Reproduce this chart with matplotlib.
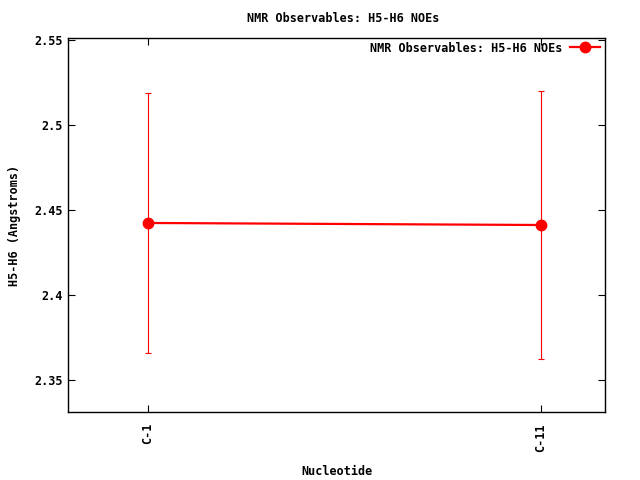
import matplotlib
matplotlib.use('Agg')
import matplotlib.pyplot as plt
from matplotlib.lines import Line2D

# data
nucleotides = ['C-1', 'C-11']
positions = [1, 11]
noe_mean = [2.4424, 2.4412]
noe_err = [0.0765, 0.0790]

plt.rcParams['font.family'] = ['DejaVu Sans Mono']
plt.rcParams['font.weight'] = 'bold'
plt.rcParams['font.size'] = 8.5

fig = plt.figure(figsize=(6.4, 4.8), dpi=100)
ax = fig.add_axes([0.10625, 0.1417, 0.8391, 0.7791])

ax.errorbar(positions, noe_mean, yerr=noe_err, color='#ff0000', ecolor='#ff0000',
            elinewidth=0.8, capsize=2.5, capthick=0.8, linewidth=1.6, marker='o',
            markersize=7.5)

ax.set_xlim(-1.03, 12.63)
ax.set_ylim(2.3312, 2.5512)
ax.set_yticks([2.35, 2.4, 2.45, 2.5, 2.55])
ax.set_yticklabels(['2.35', '2.4', '2.45', '2.5', '2.55'])
ax.set_xticks(positions)
ax.set_xticklabels(nucleotides, rotation=90)

ax.tick_params(direction='in', top=True, right=True, length=5, width=0.8, labelsize=8.5)
ax.tick_params(axis='x', pad=8)
for s in ax.spines.values():
    s.set_linewidth(1)

fig.text(343 / 640, 1 - 18 / 480, 'NMR Observables: H5-H6 NOEs',
         ha='center', va='center', fontsize=8.5, fontweight='bold')
ax.set_xlabel('Nucleotide', fontsize=8.5, fontweight='bold', va='center')
ax.xaxis.set_label_coords(0.5, -0.16)
ax.set_ylabel('H5-H6 (Angstroms)', fontsize=8.5, fontweight='bold', va='center')
ax.yaxis.set_label_coords(-0.099, 0.5)

handle = Line2D([], [], color='#ff0000', linewidth=1.6, marker='o', markersize=7.5)
ax.legend([handle], ['NMR Observables: H5-H6 NOEs'], loc='upper right', frameon=False,
          markerfirst=False, fontsize=8.5, handlelength=2.6, handletextpad=0.6,
          borderaxespad=0.0, bbox_to_anchor=(1.0, 1.003))

fig.savefig('out.png', dpi=100)
